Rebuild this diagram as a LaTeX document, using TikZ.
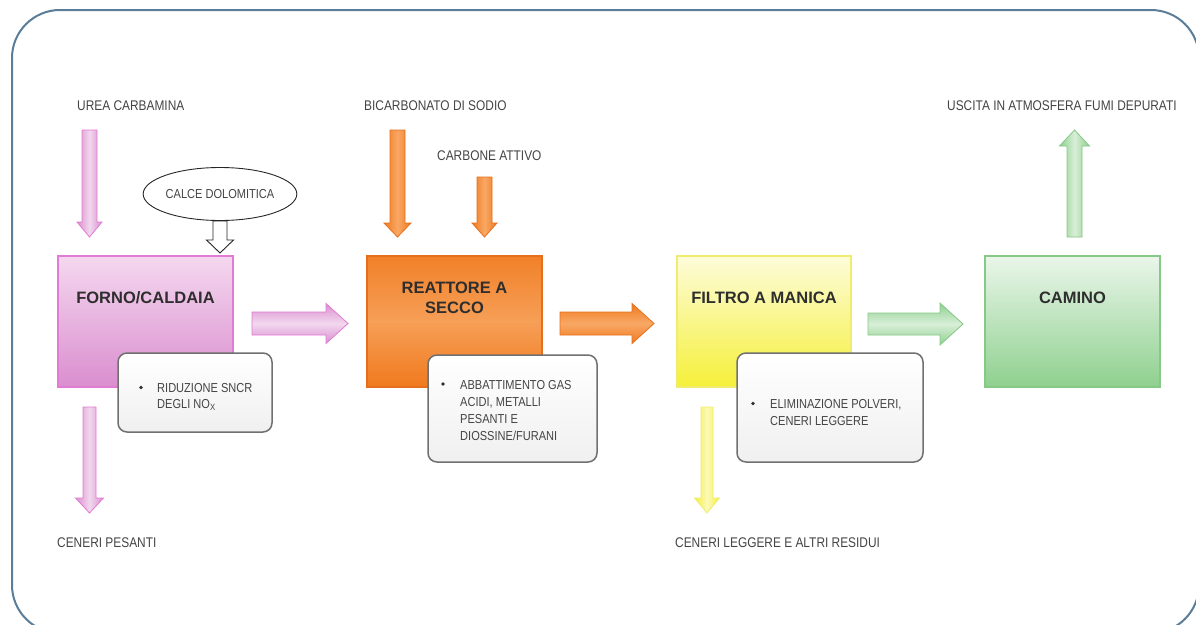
\documentclass[tikz,border=0pt]{standalone}
\usepackage{fontspec}
\setmainfont{Liberation Sans}
\newfontfamily\lblfont[FakeStretch=0.85]{Liberation Sans}
\usetikzlibrary{shapes.geometric}
\definecolor{framec}{HTML}{5A7D9A}
\definecolor{lblgray}{HTML}{444444}
\definecolor{titlegray}{HTML}{2E2E2E}
\definecolor{pinkB}{HTML}{E27BD3}
\definecolor{pinkL}{HTML}{F4D8EF}
\definecolor{pinkD}{HTML}{DA8ECF}
\definecolor{orangeB}{HTML}{E66F1C}
\definecolor{orangeL}{HTML}{F8A865}
\definecolor{orangeD}{HTML}{F07A1E}
\definecolor{yellowB}{HTML}{F0EC70}
\definecolor{yellowL}{HTML}{FDFCDA}
\definecolor{yellowD}{HTML}{F5F03A}
\definecolor{greenB}{HTML}{86C886}
\definecolor{greenL}{HTML}{EAF6EA}
\definecolor{greenD}{HTML}{8FD08F}
\definecolor{noteB}{HTML}{707070}
% vertical block arrow: style, xc, shaft half, head half, y start, y head base, y tip
\newcommand\barrv[7]{%
  \path[#1] ({#2-#3},{#5}) -- ({#2+#3},{#5}) -- ({#2+#3},{#6}) -- ({#2+#4},{#6})
    -- ({#2},{#7}) -- ({#2-#4},{#6}) -- ({#2-#3},{#6}) -- cycle;}
% horizontal block arrow: style, yc, shaft half, head half, x start, x head base, x tip
\newcommand\barrh[7]{%
  \path[#1] ({#5},{#2-#3}) -- ({#6},{#2-#3}) -- ({#6},{#2-#4}) -- ({#7},{#2})
    -- ({#6},{#2+#4}) -- ({#6},{#2+#3}) -- ({#5},{#2+#3}) -- cycle;}
\tikzset{
  lbl/.style={font=\lblfont\fontsize{14}{16}\selectfont, text=lblgray, inner sep=0pt},
  notetxt/.style={font=\lblfont\fontsize{13}{16.5}\selectfont, text=lblgray, inner sep=0pt, align=left},
  bullet/.style={circle, fill=titlegray, inner sep=0pt, minimum size=3.6pt},
  boxtitle/.style={font=\bfseries\fontsize{16.5}{19.5}\selectfont, text=titlegray, inner sep=0pt, align=center},
  mainbox/.style={rectangle, line width=1.5pt, inner sep=0pt},
  notebox/.style={rectangle, rounded corners=9pt, draw=noteB, line width=1.5pt, top color=white, bottom color=black!6, inner sep=0pt},
  pinkarrV/.style={draw=pinkB, line width=0.8pt, left color=pinkD, right color=pinkD, middle color=pinkD!35!white},
  pinkarrH/.style={draw=pinkB, line width=0.8pt, top color=pinkD, bottom color=pinkD, middle color=pinkD!35!white},
  orarrV/.style={draw=orangeB, line width=0.8pt, left color=orangeD, right color=orangeD, middle color=orangeL},
  orarrH/.style={draw=orangeB, line width=0.8pt, top color=orangeD, bottom color=orangeD, middle color=orangeL},
  yelarrV/.style={draw=yellowB, line width=0.8pt, left color=yellowD, right color=yellowD, middle color=yellowD!35!white},
  grarrV/.style={draw=greenB, line width=0.8pt, left color=greenD, right color=greenD, middle color=greenD!35!white},
  grarrH/.style={draw=greenB, line width=0.8pt, top color=greenD, bottom color=greenD, middle color=greenD!35!white},
  hollowarr/.style={draw=black!85, line width=0.9pt, fill=white},
}
\begin{document}
\begin{tikzpicture}[x=1pt,y=-1pt]
\useasboundingbox (0,0) rectangle (1196,624);
\clip (0,0) rectangle (1196,624);
\fill[white] (0,0) rectangle (1196,624);
% outer frame
\draw[framec, line width=2pt, rounded corners=48pt] (12,10) rectangle (1199,633);

% ---- top labels
\node[lbl, anchor=base west] (urea) at (77,110) {UREA CARBAMINA};
\node[lbl, anchor=base west] (bicarb) at (364,110) {BICARBONATO DI SODIO};
\node[lbl, anchor=base west] (carbone) at (437,160) {CARBONE ATTIVO};
\node[lbl, anchor=base west] (uscita) at (947,110) {USCITA IN ATMOSFERA FUMI DEPURATI};
\node[lbl, anchor=base west] (cenerip) at (57,547) {CENERI PESANTI};
\node[lbl, anchor=base west] (ceneril) at (675,547) {CENERI LEGGERE E ALTRI RESIDUI};

% ---- ellipse
\node[ellipse, draw=black!85, line width=0.9pt, fill=white, minimum width=150pt, minimum height=53pt,
      font=\lblfont\fontsize{13}{15}\selectfont, text=lblgray, inner sep=0pt] (calce) at (220,194) {CALCE DOLOMITICA};

% ---- main boxes
\node[mainbox, draw=pinkB, top color=pinkL, bottom color=pinkD, minimum width=175pt, minimum height=131pt] (forno) at (145.5,321.5) {};
\node[boxtitle, anchor=base] (fornot) at (145.5,303) {FORNO/CALDAIA};

\node[mainbox, draw=orangeB, top color=orangeD!85!orangeL, bottom color=orangeD, middle color=orangeL!80!orangeD, minimum width=175pt, minimum height=131pt] (reatt) at (454.5,321.5) {};
\node[boxtitle, anchor=base] (reattt) at (454.5,293) {REATTORE A};
\node[boxtitle, anchor=base] (reattt2) at (454.5,313) {SECCO};

\node[mainbox, draw=yellowB, top color=yellowL, bottom color=yellowD, minimum width=174pt, minimum height=131pt] (filtro) at (764,321.5) {};
\node[boxtitle, anchor=base] (filtrot) at (764,303) {FILTRO A MANICA};

\node[mainbox, draw=greenB, top color=greenL, bottom color=greenD, minimum width=175pt, minimum height=131pt] (camino) at (1072.5,321.5) {};
\node[boxtitle, anchor=base] (caminot) at (1072.5,303) {CAMINO};

% ---- note boxes
\node[notebox, minimum width=154pt, minimum height=79pt] (note1) at (195,392.5) {};
\node[bullet] (b1) at (141,387.5) {};
\node[notetxt, anchor=base west] (n1a) at (157,392) {RIDUZIONE SNCR};
\node[notetxt, anchor=base west] (n1b) at (157,408) {DEGLI NO\textsubscript{X}};

\node[notebox, minimum width=169pt, minimum height=107pt] (note2) at (512.5,408.5) {};
\node[bullet] (b2) at (443,384) {};
\node[notetxt, anchor=base west] (n2a) at (460,389) {ABBATTIMENTO GAS};
\node[notetxt, anchor=base west] (n2b) at (460,406) {ACIDI, METALLI};
\node[notetxt, anchor=base west] (n2c) at (460,423) {PESANTI E};
\node[notetxt, anchor=base west] (n2d) at (460,440) {DIOSSINE/FURANI};

\node[notebox, minimum width=186pt, minimum height=109pt] (note3) at (830,407.5) {};
\node[bullet] (b3) at (753,403.5) {};
\node[notetxt, anchor=base west] (n3a) at (770,408) {ELIMINAZIONE POLVERI,};
\node[notetxt, anchor=base west] (n3b) at (770,425) {CENERI LEGGERE};

% ---- block arrows
\barrv{pinkarrV}{89.5}{7.5}{12.5}{130}{222}{237}
\barrv{hollowarr}{220}{7}{13.5}{221}{240}{253}
\barrh{pinkarrH}{323.5}{11.5}{20}{252}{326}{348}
\barrv{pinkarrV}{89.5}{6.5}{14}{407}{498}{513}

\barrv{orarrV}{397.5}{7.5}{13.5}{130}{223}{237}
\barrv{orarrV}{484.5}{7.5}{12.5}{177}{223}{237}
\barrh{orarrH}{323.5}{11.5}{20}{560}{632}{654}

\barrv{yelarrV}{707}{6}{12.5}{407}{498}{513}

\barrh{grarrH}{324}{11}{21}{868}{940}{963}
\barrv{grarrV}{1074.5}{7.5}{15}{237}{146}{130}
\end{tikzpicture}
\end{document}
